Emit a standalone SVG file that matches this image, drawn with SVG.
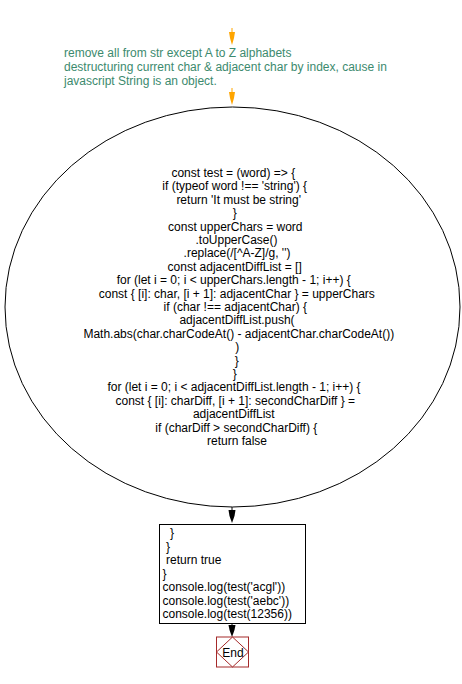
<svg xmlns="http://www.w3.org/2000/svg" width="462" height="684" viewBox="0 0 462 684">
<style>
text{font-family:"Liberation Sans",Arial,sans-serif;font-size:12px;fill:#000}
.note{fill:#3c8a6e}
.c{text-anchor:middle}
.oa{fill:#ffa500}
.ba{fill:#000}
.ln{stroke:#000;stroke-width:1;fill:none}
</style>
<rect width="462" height="684" fill="#fff"/>
<g id="connectors">
<path class="oa" d="M231.5,28 L232.5,28 L232.5,32 L235,32 L234,38 L232,45 L230,38 L229,32 L231.5,32 Z"/>
<path class="oa" d="M231.5,88 L232.5,88 L232.5,92 L235,92 L234,98 L232,105 L230,98 L229,92 L231.5,92 Z"/>
<line class="ln" x1="232" y1="507" x2="232" y2="511"/>
<path class="ba" d="M228.5,510 L235.5,510 L234.5,516 L232,523 L229.5,516 Z"/>
<line class="ln" x1="232" y1="623" x2="232" y2="626"/>
<path class="ba" d="M228.5,625 L235.5,625 L234.5,630 L232,637 L229.5,630 Z"/>
</g>
<g id="note">
<text class="note" x="64" y="57">remove all from str except A to Z alphabets</text>
<text class="note" x="64" y="71">destructuring current char &amp; adjacent char by index, cause in</text>
<text class="note" x="64" y="85">javascript String is an object.</text>
</g>
<g id="loop">
<ellipse cx="232.5" cy="307" rx="227.5" ry="200" fill="#fff" stroke="#000" stroke-width="1"/>
<text class="c" x="233.3" y="177">const test = (word) =&gt; {</text>
<text class="c" x="234.7" y="190.4">if (typeof word !== 'string') {</text>
<text class="c" x="238.7" y="203.8">return 'It must be string'</text>
<text class="c" x="234.7" y="217.2">}</text>
<text class="c" x="235.3" y="230.6">const upperChars = word</text>
<text class="c" x="236.5" y="244">.toUpperCase()</text>
<text class="c" x="237" y="257.4">.replace(/[^A-Z]/g, '')</text>
<text class="c" x="234.7" y="270.8">const adjacentDiffList = []</text>
<text class="c" x="233.7" y="284.2">for (let i = 0; i &lt; upperChars.length - 1; i++) {</text>
<text class="c" x="236.8" y="297.6">const { [i]: char, [i + 1]: adjacentChar } = upperChars</text>
<text class="c" x="235.3" y="311">if (char !== adjacentChar) {</text>
<text class="c" x="237" y="324.4">adjacentDiffList.push(</text>
<text class="c" x="238.8" y="337.8">Math.abs(char.charCodeAt() - adjacentChar.charCodeAt())</text>
<text class="c" x="237.3" y="351.2">)</text>
<text class="c" x="236.7" y="364.6">}</text>
<text class="c" x="234.7" y="378">}</text>
<text class="c" x="234" y="391.4">for (let i = 0; i &lt; adjacentDiffList.length - 1; i++) {</text>
<text class="c" x="235.3" y="404.8">const { [i]: charDiff, [i + 1]: secondCharDiff } =</text>
<text class="c" x="233.8" y="418.2">adjacentDiffList</text>
<text class="c" x="236.3" y="431.6">if (charDiff &gt; secondCharDiff) {</text>
<text class="c" x="237" y="445">return false</text>
</g>
<g id="tail">
<rect x="159.5" y="524.5" width="146" height="99" fill="#fff" stroke="#000" stroke-width="1"/>
<text x="170" y="537">}</text>
<text x="166" y="550.5">}</text>
<text x="166" y="564">return true</text>
<text x="162.5" y="577.5">}</text>
<text x="162.5" y="591">console.log(test('acgl'))</text>
<text x="162.5" y="604.5">console.log(test('aebc'))</text>
<text x="162.5" y="618">console.log(test(12356))</text>
</g>
<g id="end">
<rect x="216.5" y="637" width="32" height="30" fill="#fff" stroke="#a52a2a" stroke-width="1"/>
<path d="M232.5,637 L248.5,652 L232.5,667 L216.5,652 Z" fill="none" stroke="#a52a2a" stroke-width="1"/>
<text class="c" x="233" y="657">End</text>
</g>
</svg>
